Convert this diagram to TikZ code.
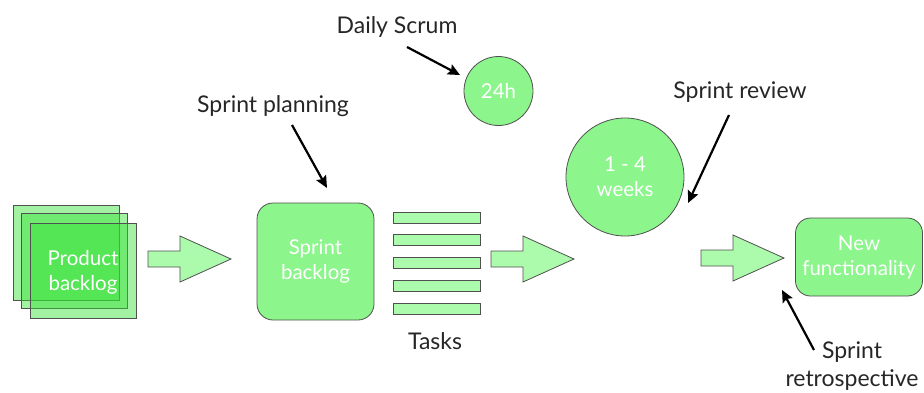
\documentclass[tikz,border=0pt]{standalone}
\usepackage{fontspec}
\setmainfont{Lato}
\usetikzlibrary{arrows.meta, calc, positioning}

\definecolor{scrumgreen}{RGB}{140,245,140}
\definecolor{palegreen}{RGB}{172,250,172}
\definecolor{stackgreen}{RGB}{50,225,50}
\definecolor{edgegray}{RGB}{80,80,80}

\tikzset{
	txt/.style={font=\fontsize{23}{28}\selectfont, text=black!85, align=center},
	wtxt/.style={font=\fontsize{20.5}{25}\selectfont, text=white, align=center},
	stacksheet/.style={draw=edgegray, line width=.8pt, fill=stackgreen, fill opacity=.45,
		minimum width=106pt, minimum height=95pt, inner sep=0pt},
	roundbox/.style={draw=edgegray, line width=.8pt, fill=scrumgreen, rounded corners=16pt, inner sep=0pt},
	timebox/.style={circle, draw=edgegray, line width=.8pt, fill=scrumgreen, inner sep=0pt},
	taskbar/.style={draw=edgegray, line width=.8pt, fill=palegreen, minimum width=87pt, minimum height=11pt, inner sep=0pt},
	pointer/.style={line width=2.2pt, -{Stealth[length=12pt,width=11pt,inset=2pt]}},
	blockarrow/.pic={
		\draw[edgegray, line width=.8pt, fill=palegreen, line join=miter]
			(0,-8) -- (32,-8) -- (32,-23) -- (83,0) -- (32,23) -- (32,8) -- (0,8) -- cycle;
	}
}

\begin{document}
\begin{tikzpicture}[x=1pt, y=-1pt]
	\useasboundingbox (0,0) rectangle (924,392);

	% product backlog, three stacked sheets
	\node[stacksheet] (pb1) at (66.5,252.5) {};
	\node[stacksheet] (pb2) at (74.5,260.5) {};
	\node[stacksheet] (pb3) at (83,270.5) {};
	\node[wtxt] (pbtext) at (83,272) {Product\\backlog};

	\pic at (148,259) {blockarrow};

	% sprint backlog and its tasks
	\node[roundbox, minimum width=117pt, minimum height=117pt] (sprintbl) at (315.5,261.5) {};
	\node[wtxt] at (sprintbl) {Sprint\\backlog};
	\foreach \i in {0,...,4}
		\node[taskbar] (task\i) at (436.5,217.5+22.8*\i) {};
	\node[txt] (tasks) at (435,341) {Tasks};

	\pic at (491,259) {blockarrow};

	% the sprint and the daily cycle
	\node[timebox, minimum size=118pt] (sprint) at (625,177) {};
	\node[wtxt] at (sprint) {1 - 4\\weeks};
	\node[timebox, minimum size=69pt] (daily) at (498.5,91) {};
	\node[wtxt] at (daily) {24h};

	\pic at (701,258) {blockarrow};

	\node[roundbox, rounded corners=15pt, minimum width=127pt, minimum height=78pt] (newfunc) at (859,257) {};
	\node[wtxt] at (newfunc) {New\\functionality};

	% labels and pointers
	\node[txt] (scrumlbl) at (397,27) {Daily Scrum};
	\node[txt] (planlbl) at (273,106) {Sprint planning};
	\node[txt] (reviewlbl) at (740,92) {Sprint review};
	\node[txt] (retrolbl) at (852,366) {Sprint\\retrospective};

	\coordinate (scrumtip) at (460,75);
	\coordinate (plantip) at (327,188);
	\coordinate (reviewtip) at (688,203);
	\coordinate (retrotip) at (782,290);

	\draw[pointer] (scrumlbl) ++(10,20) -- (scrumtip);
	\draw[pointer] (planlbl) ++(19,19) -- (plantip);
	\draw[pointer] (reviewlbl) ++(-11,23) -- (reviewtip);
	\draw[pointer] (retrolbl) ++(-38,-16) -- (retrotip);
\end{tikzpicture}
\end{document}
